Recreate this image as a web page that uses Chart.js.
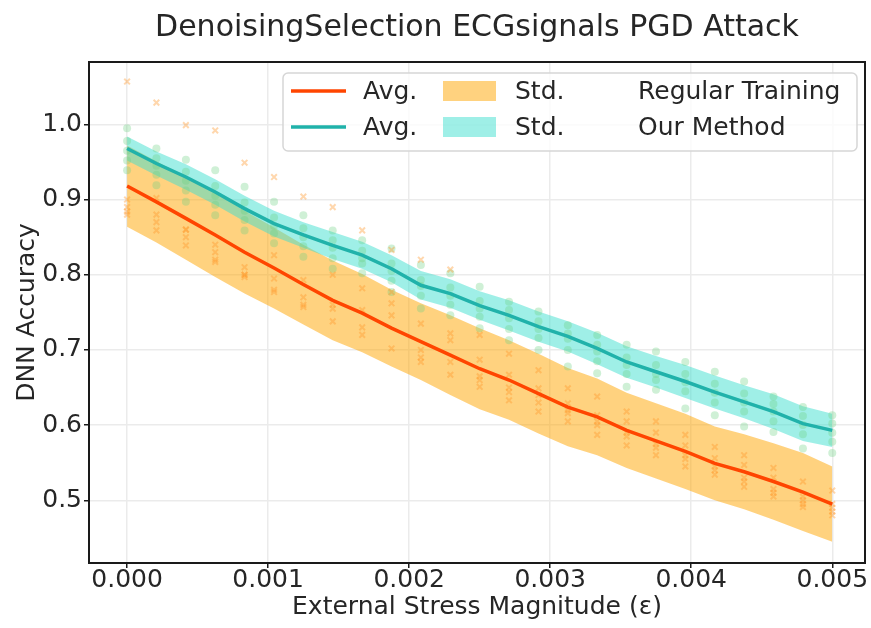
<!DOCTYPE html>
<html>
<head>
<meta charset="utf-8">
<script src="https://cdn.jsdelivr.net/npm/chart.js@4.4.1/dist/chart.umd.min.js"></script>
<style>
  html,body{margin:0;padding:0;background:#fff;}
  #wrap{width:871px;height:628px;}
</style>
</head>
<body>
<div id="wrap"><canvas id="chart" width="871" height="628"></canvas></div>
<script>
// x positions of the 25 evaluated stress magnitudes
const eps = [0, 0.000208, 0.000417, 0.000625, 0.000833, 0.001042, 0.00125, 0.001458, 0.001667, 0.001875,
  0.002083, 0.002292, 0.0025, 0.002708, 0.002917, 0.003125, 0.003333, 0.003542, 0.00375, 0.003958,
  0.004167, 0.004375, 0.004583, 0.004792, 0.005];
const xTicks = [0, 0.001, 0.002, 0.003, 0.004, 0.005];
const yTicks = [0.5, 0.6, 0.7, 0.8, 0.9, 1.0];

// Regular Training
const regAvg = [0.918,0.897,0.875,0.853,0.830,0.809,0.787,0.766,0.749,0.729,0.711,0.693,0.675,0.660,0.642,0.624,0.611,0.593,0.579,0.565,0.549,0.538,0.525,0.511,0.495];
const regStd = [0.054,0.054,0.055,0.056,0.055,0.054,0.053,0.053,0.052,0.051,0.051,0.053,0.054,0.053,0.053,0.052,0.051,0.050,0.050,0.050,0.049,0.050,0.051,0.052,0.050];
const regRuns = [
  [1.057,1.029,0.999,0.992,0.949,0.930,0.904,0.890,0.859,0.833,0.820,0.807,0.720,0.695,0.673,0.649,0.638,0.618,0.605,0.587,0.571,0.560,0.543,0.525,0.513],
  [0.884,0.859,0.839,0.817,0.797,0.826,0.793,0.800,0.782,0.777,0.735,0.722,0.687,0.667,0.649,0.629,0.613,0.605,0.560,0.573,0.556,0.547,0.505,0.491,0.480],
  [0.890,0.902,0.860,0.840,0.810,0.795,0.757,0.755,0.753,0.762,0.700,0.713,0.660,0.644,0.618,0.616,0.587,0.573,0.590,0.545,0.534,0.518,0.530,0.505,0.495],
  [0.880,0.870,0.850,0.830,0.800,0.777,0.770,0.738,0.720,0.746,0.684,0.684,0.651,0.633,0.630,0.605,0.600,0.585,0.575,0.560,0.545,0.530,0.515,0.500,0.490],
  [0.900,0.880,0.860,0.820,0.800,0.780,0.760,0.760,0.730,0.702,0.690,0.667,0.665,0.650,0.640,0.620,0.605,0.590,0.570,0.555,0.540,0.525,0.510,0.495,0.485]
];

// Our Method
const ourAvg = [0.968,0.948,0.930,0.910,0.888,0.868,0.853,0.839,0.826,0.808,0.786,0.775,0.759,0.746,0.731,0.718,0.702,0.684,0.671,0.658,0.644,0.631,0.618,0.602,0.593];
const ourStd = [0.016,0.016,0.017,0.017,0.017,0.017,0.017,0.018,0.018,0.018,0.019,0.019,0.019,0.020,0.020,0.020,0.021,0.021,0.021,0.022,0.022,0.022,0.023,0.023,0.022];
const ourRuns = [
  [0.995,0.968,0.953,0.939,0.917,0.897,0.879,0.859,0.846,0.835,0.813,0.802,0.784,0.764,0.751,0.733,0.720,0.707,0.698,0.684,0.671,0.658,0.638,0.624,0.613],
  [0.978,0.955,0.937,0.918,0.896,0.876,0.862,0.846,0.832,0.815,0.793,0.783,0.765,0.753,0.738,0.722,0.707,0.690,0.680,0.668,0.655,0.642,0.628,0.612,0.602],
  [0.965,0.945,0.925,0.905,0.885,0.865,0.850,0.836,0.822,0.805,0.785,0.772,0.755,0.742,0.728,0.715,0.698,0.680,0.668,0.657,0.643,0.630,0.618,0.600,0.590],
  [0.952,0.933,0.912,0.893,0.873,0.855,0.838,0.822,0.815,0.792,0.772,0.760,0.744,0.728,0.716,0.700,0.685,0.668,0.660,0.645,0.630,0.618,0.605,0.588,0.578],
  [0.939,0.919,0.897,0.879,0.859,0.842,0.824,0.808,0.802,0.777,0.755,0.746,0.729,0.713,0.700,0.678,0.669,0.651,0.647,0.622,0.613,0.598,0.591,0.569,0.563]
];

const FONT = "'DejaVu Sans', sans-serif";
const TXT = '#262626';
const pts = (ys) => ys.map((y, i) => ({x: eps[i], y}));
const band = (avg, sd, s) => avg.map((m, i) => ({x: eps[i], y: m + s * sd[i]}));

const datasets = [];
// lines on top
datasets.push({label:'Avg. Regular', data:pts(regAvg), borderColor:'#ff4500', borderWidth:3.5, pointRadius:0, fill:false, order:0});
datasets.push({label:'Avg. Ours', data:pts(ourAvg), borderColor:'#20b2aa', borderWidth:3.5, pointRadius:0, fill:false, order:0});
// individual runs
regRuns.forEach(r => datasets.push({type:'scatter', data:pts(r), pointStyle:'crossRot', pointRadius:4, borderWidth:2,
  borderColor:'rgba(255,150,40,0.38)', backgroundColor:'rgba(255,150,40,0.38)', showLine:false, order:1}));
ourRuns.forEach(r => datasets.push({type:'scatter', data:pts(r), pointStyle:'circle', pointRadius:4, borderWidth:0,
  backgroundColor:'rgba(110,210,130,0.33)', showLine:false, order:1}));
// std bands
datasets.push({data:band(regAvg, regStd, 1), borderWidth:0, pointRadius:0, backgroundColor:'rgba(255,165,0,0.5)', fill:'+1', order:3});
datasets.push({data:band(regAvg, regStd, -1), borderWidth:0, pointRadius:0, fill:false, order:3});
datasets.push({data:band(ourAvg, ourStd, 1), borderWidth:0, pointRadius:0, backgroundColor:'rgba(64,224,208,0.5)', fill:'+1', order:2});
datasets.push({data:band(ourAvg, ourStd, -1), borderWidth:0, pointRadius:0, fill:false, order:2});

const framePlugin = {
  id:'frame',
  afterDatasetsDraw(chart){
    const {ctx, chartArea:a} = chart;
    ctx.save(); ctx.strokeStyle = '#1a1a1a'; ctx.lineWidth = 2;
    ctx.strokeRect(a.left, a.top, a.right - a.left, a.bottom - a.top);
    ctx.restore();
  }
};

const legendPlugin = {
  id:'boxLegend',
  afterDraw(chart){
    const ctx = chart.ctx;
    const x0 = 283, y0 = 73, w = 574, h = 78, r = 5;
    ctx.save();
    ctx.beginPath(); ctx.roundRect(x0, y0, w, h, r);
    ctx.fillStyle = 'rgba(255,255,255,0.8)'; ctx.fill();
    ctx.strokeStyle = '#d6d6d6'; ctx.lineWidth = 1.5; ctx.stroke();
    const rows = [
      {y:91, line:'#ff4500', patch:'rgba(255,165,0,0.5)', name:'Regular Training'},
      {y:127, line:'#20b2aa', patch:'rgba(64,224,208,0.5)', name:'Our Method'}
    ];
    ctx.font = `25px ${FONT}`; ctx.fillStyle = TXT; ctx.textBaseline = 'middle';
    rows.forEach(rw => {
      ctx.strokeStyle = rw.line; ctx.lineWidth = 3.5;
      ctx.beginPath(); ctx.moveTo(291, rw.y); ctx.lineTo(346, rw.y); ctx.stroke();
      ctx.fillStyle = rw.patch; ctx.fillRect(443, rw.y - 10, 53, 20);
      ctx.fillStyle = TXT;
      ctx.fillText('Avg.', 363, rw.y + 1);
      ctx.fillText('Std.', 515, rw.y + 1);
      ctx.fillText(rw.name, 638, rw.y + 1);
    });
    ctx.restore();
  }
};

new Chart(document.getElementById('chart').getContext('2d'), {
  type:'line',
  data:{datasets},
  plugins:[framePlugin, legendPlugin],
  options:{
    responsive:false, animation:false,
    layout:{padding:{left:0, right:6, top:0, bottom:0}},
    elements:{line:{tension:0}},
    plugins:{
      legend:{display:false}, tooltip:{enabled:false},
      title:{display:true, text:'DenoisingSelection ECGsignals PGD Attack', fullSize:false,
        color:TXT, font:{family:FONT, size:30, weight:'normal'}, padding:{top:10, bottom:16}}
    },
    scales:{
      x:{type:'linear', min:-0.00027, max:0.005232,
        afterBuildTicks:(s) => { s.ticks = xTicks.map(v => ({value:v})); },
        afterFit:(s) => { s.height = 65; },
        grid:{color:'#ebebeb', lineWidth:1.5, tickLength:5, tickColor:'#1a1a1a', tickWidth:1.5, drawOnChartArea:true},
        border:{display:false},
        ticks:{color:TXT, font:{family:FONT, size:25, lineHeight:1}, padding:0, maxRotation:0, autoSkip:false,
          callback:(v) => v.toFixed(3)},
        title:{display:true, text:'External Stress Magnitude (\u03b5)', color:TXT,
          font:{family:FONT, size:25, lineHeight:1.2}, padding:{top:0, bottom:6}}
      },
      y:{type:'linear', min:0.4166, max:1.083,
        afterBuildTicks:(s) => { s.ticks = yTicks.map(v => ({value:v})); },
        afterFit:(s) => { s.width = 89; },
        grid:{color:'#ebebeb', lineWidth:1.5, tickLength:5, tickColor:'#1a1a1a', tickWidth:1.5},
        border:{display:false},
        ticks:{color:TXT, font:{family:FONT, size:25}, padding:2, autoSkip:false,
          callback:(v) => v.toFixed(1)},
        title:{display:true, text:'DNN Accuracy', color:TXT,
          font:{family:FONT, size:25, lineHeight:1.2}, padding:{top:12, bottom:0}}
      }
    }
  }
});
</script>
</body>
</html>
